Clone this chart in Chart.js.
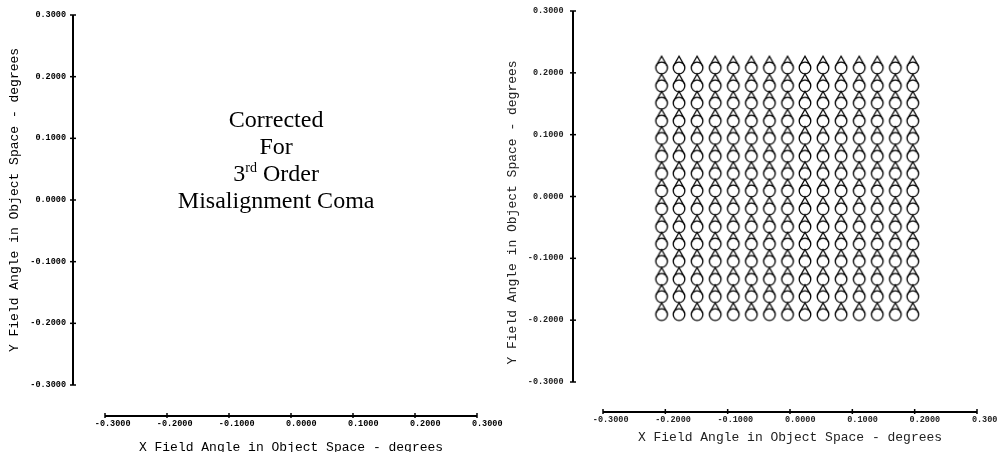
<!DOCTYPE html>
<html>
<head>
<meta charset="utf-8">
<title>Field Angle Maps</title>
<script src="https://cdn.jsdelivr.net/npm/chart.js@4.4.1/dist/chart.umd.min.js"></script>
<style>
  html, body { margin: 0; padding: 0; background: #fff; }
  #wrap { position: relative; width: 997px; height: 452px; overflow: hidden; }
  .panel { position: absolute; top: 0; height: 452px; }
  #left { left: 0; width: 520px; }
  #right { left: 498px; width: 499px; }
</style>
</head>
<body>
<div id="wrap">
  <div class="panel" id="left"><canvas id="leftChart" width="520" height="452"></canvas></div>
  <div class="panel" id="right"><canvas id="rightChart" width="499" height="452"></canvas></div>
</div>
<script>
// axis ticks shared by both field maps (degrees)
const axisTicks = [-0.3, -0.2, -0.1, 0.0, 0.1, 0.2, 0.3];
const xTitle = 'X Field Angle in Object Space - degrees';
const yTitle = 'Y Field Angle in Object Space - degrees';

// field points of the coma map (circle centres)
const fieldX = [-0.206, -0.178, -0.149, -0.120, -0.091, -0.062, -0.033, -0.004,
                0.024, 0.053, 0.082, 0.111, 0.140, 0.169, 0.197];
const fieldY = [0.208, 0.179, 0.151, 0.122, 0.094, 0.065, 0.037, 0.009,
                -0.020, -0.049, -0.077, -0.105, -0.134, -0.162, -0.191];

// note printed on the corrected map; second entry of a piece marks superscript
const noteLines = [
  [['Corrected', false]],
  [['For', false]],
  [['3', false], ['rd', true], [' Order', false]],
  [['Misalignment Coma', false]]
];

const fieldPoints = [];
fieldY.forEach(y => fieldX.forEach(x => fieldPoints.push({ x, y })));

// teardrop symbol: circle with a wedge pointing up
function comaMarker() {
  const c = document.createElement('canvas');
  c.width = 18; c.height = 30;
  const g = c.getContext('2d');
  g.strokeStyle = '#000';
  g.lineWidth = 1.3;
  g.beginPath();
  g.arc(9, 15, 5.8, 0, Math.PI * 2);
  g.stroke();
  g.beginPath();
  g.moveTo(3.3, 13.2);
  g.lineTo(9, 3.2);
  g.lineTo(14.7, 13.2);
  g.stroke();
  return c;
}

// axes drawn away from the plot box, CODE V style
const fieldAxes = {
  id: 'fieldAxes',
  afterDraw(chart, args, o) {
    const { ctx, chartArea: area } = chart;
    const xs = chart.scales.x, ys = chart.scales.y;
    const ax = area.left - o.gapLeft;
    const ay = area.bottom + o.gapBottom;
    const first = axisTicks[0], last = axisTicks[axisTicks.length - 1];
    ctx.save();
    ctx.strokeStyle = '#000';
    ctx.lineWidth = 2;
    ctx.beginPath();
    ctx.moveTo(ax, ys.getPixelForValue(first));
    ctx.lineTo(ax, ys.getPixelForValue(last));
    ctx.moveTo(xs.getPixelForValue(first), ay);
    ctx.lineTo(xs.getPixelForValue(last), ay);
    ctx.stroke();

    ctx.lineWidth = 1.5;
    ctx.font = 'bold 8.5px "Liberation Mono"';
    ctx.fillStyle = o.tickColor;
    axisTicks.forEach(v => {
      const label = v.toFixed(4);
      const py = ys.getPixelForValue(v);
      ctx.beginPath();
      ctx.moveTo(ax - 3, py);
      ctx.lineTo(ax + 3, py);
      ctx.stroke();
      ctx.textAlign = 'right';
      ctx.textBaseline = 'middle';
      ctx.fillText(label, ax - o.yLabelGap, py);

      const px = xs.getPixelForValue(v);
      ctx.beginPath();
      ctx.moveTo(px, ay - 3);
      ctx.lineTo(px, ay + 2);
      ctx.stroke();
      ctx.textAlign = 'left';
      const intPart = label.split('.')[0];
      ctx.fillText(label, px - ctx.measureText(intPart).width, ay + o.xLabelGap);
    });

    ctx.font = '13px "Liberation Mono"';
    ctx.fillStyle = o.titleColor;
    ctx.textAlign = 'center';
    ctx.textBaseline = 'middle';
    ctx.fillText(xTitle, (area.left + area.right) / 2, ay + o.xTitleGap);
    ctx.translate(o.yTitleX, (area.top + area.bottom) / 2 + o.yTitleShift);
    ctx.rotate(-Math.PI / 2);
    ctx.fillText(yTitle, 0, 0);
    ctx.restore();
  }
};

// centred multi-line note with superscripts
const fieldNote = {
  id: 'fieldNote',
  afterDraw(chart, args, o) {
    if (!o.lines) return;
    const { ctx } = chart;
    const cx = chart.scales.x.getPixelForValue(o.x);
    let by = chart.scales.y.getPixelForValue(o.y);
    const big = '24px "Liberation Serif"', small = '14px "Liberation Serif"';
    ctx.save();
    ctx.fillStyle = '#000';
    ctx.textAlign = 'left';
    ctx.textBaseline = 'alphabetic';
    o.lines.forEach(pieces => {
      const widths = pieces.map(([t, sup]) => { ctx.font = sup ? small : big; return ctx.measureText(t).width; });
      let px = cx - widths.reduce((a, b) => a + b, 0) / 2;
      pieces.forEach(([t, sup], i) => {
        ctx.font = sup ? small : big;
        ctx.fillText(t, px, sup ? by - 9 : by);
        px += widths[i];
      });
      by += o.lineHeight;
    });
    ctx.restore();
  }
};

function baseOptions(padding, axesOpts, noteOpts) {
  return {
    responsive: false,
    animation: false,
    events: [],
    layout: { padding },
    scales: {
      x: { type: 'linear', min: -0.3, max: 0.3, display: false },
      y: { type: 'linear', min: -0.3, max: 0.3, display: false }
    },
    plugins: {
      legend: { display: false },
      tooltip: { enabled: false },
      fieldAxes: axesOpts,
      fieldNote: noteOpts
    }
  };
}

new Chart(document.getElementById('leftChart'), {
  type: 'scatter',
  data: { datasets: [] },
  options: baseOptions(
    { left: 105, right: 43, top: 15, bottom: 67 },
    { gapLeft: 32, gapBottom: 31, yLabelGap: 7, xLabelGap: 7.5, xTitleGap: 32,
      yTitleX: 15, yTitleShift: 0, tickColor: '#000', titleColor: '#000' },
    { lines: noteLines, x: -0.024, y: 0.119, lineHeight: 27 }
  ),
  plugins: [fieldAxes, fieldNote]
});

new Chart(document.getElementById('rightChart'), {
  type: 'scatter',
  data: {
    datasets: [{
      data: fieldPoints,
      pointStyle: comaMarker(),
      pointRadius: 6,
      showLine: false
    }]
  },
  options: baseOptions(
    { left: 105, right: 20, top: 11, bottom: 70 },
    { gapLeft: 30, gapBottom: 30, yLabelGap: 9.5, xLabelGap: 8, xTitleGap: 26,
      yTitleX: 15, yTitleShift: 16, tickColor: '#222', titleColor: '#222' },
    {}
  ),
  plugins: [fieldAxes, fieldNote]
});
</script>
</body>
</html>
